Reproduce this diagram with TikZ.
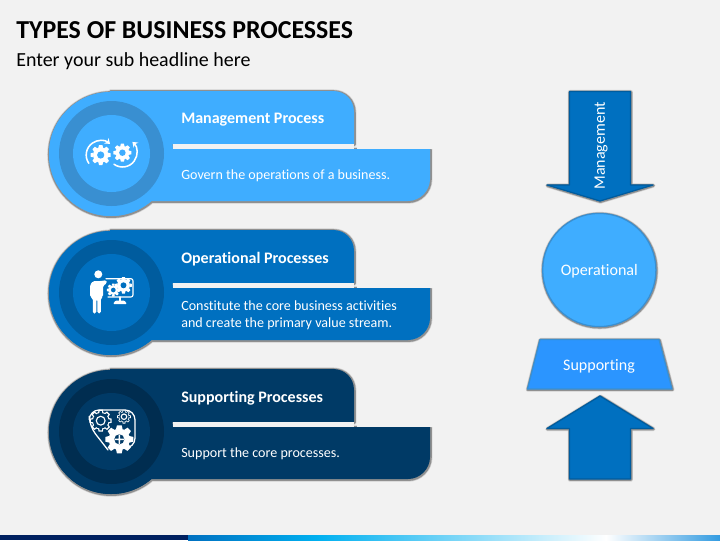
\documentclass[tikz,border=0pt]{standalone}
\usepackage{fontspec}
\setmainfont[Ligatures=NoCommon]{Carlito}
\usepackage{xcolor}
\usetikzlibrary{arrows.meta}
\definecolor{MyPage}{HTML}{F2F2F2}
\definecolor{MyLight}{HTML}{3FADFF}
\definecolor{MyLightRing}{HTML}{398FD1}
\definecolor{MyMid}{HTML}{0070C0}
\definecolor{MyMidRing}{HTML}{005C9E}
\definecolor{MyDark}{HTML}{003A66}
\definecolor{MyDarkRing}{HTML}{002D50}
\definecolor{MyTrap}{HTML}{2B95FF}
\definecolor{MyNavy}{HTML}{002060}
\definecolor{MySky}{HTML}{00B0F0}
\definecolor{MyEnd}{HTML}{329BE1}
\tikzset{
  x=0.025cm, y=-0.025cm,
  MyShade/.style={
    preaction={draw=black, opacity=.14, line width=3pt, line join=round, transform canvas={shift={(.25pt,-.4pt)}}},
    preaction={draw=black, opacity=.3, line width=2pt, line join=round, transform canvas={shift={(.25pt,-.4pt)}}},
  },
  MyHead/.style={anchor=west, inner sep=0pt, text=white, font=\fontsize{11.4}{14}\selectfont\bfseries},
  MyBody/.style={anchor=west, inner sep=0pt, text=white, align=left, font=\fontsize{10}{12}\selectfont},
  MyLabel/.style={inner sep=0pt, text=white, font=\fontsize{11.4}{13}\selectfont},
  MyArrow/.style={fill=MyMid, draw=MyMidRing, line width=.9pt, line join=round, MyShade},
  MyIcon/.style={draw=white, line width=1.1pt, line cap=round},
  MyTip/.style={-{Stealth[length=3.5pt,width=5pt]}},
}
% card outline with its rings, y is the offset of the card
\newcommand{\MyCard}[4]{
  \begin{scope}[shift={(0,#1)}]
    \fill[#2, MyShade] (111,154) circle[radius=62]
      (110,91) -- (333,91) .. controls (345,91) and (354,100) .. (354,112) -- (354,144) -- (110,144) -- cycle
      (110,149) -- (430,149) -- (430,179) .. controls (430,191) and (420,201) .. (408,201) -- (110,201) -- cycle;
    \fill[MyPage] (173,144) rectangle (354,149);
    \fill[MyPage] (357,145) rectangle (434,149);
    \fill[#2] (111,154) circle[radius=62];
    \fill[#3] (111.5,153.5) circle[radius=52.5];
    \fill[#4] (111.5,153.5) circle[radius=38.5];
  \end{scope}
}
% solid gear: x, y, radius, hole colour
\newcommand{\MyGear}[4]{
  \foreach \a in {0,45,...,315}
    \fill[white, shift={(#1,#2)}, scale=#3, rotate=\a] (-.24,-.7) -- (-.17,-1) -- (.17,-1) -- (.24,-.7) -- cycle;
  \fill[white] (#1,#2) circle[radius=#3*.76];
  \fill[#4] (#1,#2) circle[radius=#3*.36];
}
% outline gear: x, y, radius, inner colour
\newcommand{\MyGearLine}[4]{
  \foreach \a in {0,45,...,315}
    \fill[white, shift={(#1,#2)}, scale=#3, rotate=\a] (-.26,-.7) -- (-.2,-1.05) -- (.2,-1.05) -- (.26,-.7) -- cycle;
  \fill[white] (#1,#2) circle[radius=#3*.84];
  \foreach \a in {0,45,...,315}
    \fill[#4, shift={(#1,#2)}, scale=#3, rotate=\a] (-.14,-.7) -- (-.1,-.92) -- (.1,-.92) -- (.14,-.7) -- cycle;
  \fill[#4] (#1,#2) circle[radius=#3*.74];
  \draw[white, line width=.8pt] (#1,#2) circle[radius=#3*.42];
}
\begin{document}
\begin{tikzpicture}
\useasboundingbox (0,0) rectangle (720,540);
\fill[MyPage] (0,0) rectangle (720,540);

\node[anchor=west, inner sep=0pt, font=\fontsize{18.4}{20}\selectfont\bfseries] (Title) at (16,30) {TYPES OF BUSINESS PROCESSES};
\node[anchor=west, inner sep=0pt, font=\fontsize{14.2}{16}\selectfont] (SubTitle) at (16,61.5) {Enter your sub headline here};

\MyCard{0}{MyLight}{MyLightRing}{MyLight}
\MyCard{139}{MyMid}{MyMidRing}{MyMid}
\MyCard{278}{MyDark}{MyDarkRing}{MyDark}

\node[MyHead] (MgmtHead) at (181,120) {Management Process};
\node[MyBody] (MgmtBody) at (181,176) {Govern the operations of a business.};
\node[MyHead] (OperHead) at (181,259) {Operational Processes};
\node[MyBody] (OperBody) at (181,315) {Constitute the core business activities\\and create the primary value stream.};
\node[MyHead] (SuppHead) at (181,398) {Supporting Processes};
\node[MyBody] (SuppBody) at (181,454) {Support the core processes.};

% gears with turning arrows
\MyGear{100.7}{155}{10}{MyLight}
\MyGear{122.4}{152.7}{9}{MyLight}
\draw[MyIcon, MyTip] (100.7,155) ++(145:14.5) arc[start angle=145, end angle=310, radius=14.5];
\draw[MyIcon, MyTip] (122.5,152.5) ++(126:14.5) arc[start angle=126, end angle=-47, radius=14.5];

% person at a screen
\fill[white] (98.3,274.3) circle[radius=4];
\fill[white, rounded corners=1.2pt] (92.8,313.5) -- (92.8,298) -- (90,297) -- (90,285) -- (93,281) -- (102,281) -- (106.5,280) -- (107,283.5) -- (103,285.5) -- (103,297) -- (100.8,298) -- (100.8,313.5) -- (97.4,313.5) -- (97.4,299) -- (96.4,299) -- (96.4,313.5) -- cycle;
\draw[MyIcon, line width=.8pt, rounded corners=1.5pt] (106,278.7) -- (133,278.7) -- (133,297) -- (108,297);
\draw[MyIcon, line width=1pt] (120,297) -- (120,301);
\fill[white, rounded corners=.8pt] (113,304) -- (115.5,300.5) -- (124.5,300.5) -- (127,304) -- cycle;
\MyGear{113.3}{290}{6.5}{MyMid}
\MyGear{123.5}{285.3}{8.3}{MyMid}

% belt with three gears
\draw[MyIcon, line width=.9pt, rounded corners=7pt] (108,450) -- (89.3,426) -- (89.3,410) -- (135,410) -- (135,448) -- (120,448);
\MyGearLine{100.7}{420.7}{10.5}{MyDark}
\MyGearLine{124}{416.7}{6.5}{MyDark}
\MyGear{119.3}{439.3}{14}{MyDark}
\fill[white] (118.6,434.5) rectangle (120,444) (114.5,438.6) rectangle (124,440);

% right column
\draw[MyArrow] (569.5,91.5) -- (630.5,91.5) -- (630.5,185) -- (653,185) -- (600,201) -- (547,185) -- (569.5,185) -- cycle;
\node[MyLabel, rotate=90] (ArrowMgmt) at (601,146) {Management};
\node[circle, minimum size=2.83cm, fill=MyLight, draw=MyLightRing, line width=.9pt, MyShade, MyLabel] (CircleOper) at (599.3,270) {};
\node[MyLabel] (TextOper) at (599.3,271) {Operational};
\draw[fill=MyTrap, draw=MyLightRing, line width=.9pt, line join=round, MyShade] (540,339.5) -- (659,339.5) -- (672,389) -- (527.5,389) -- cycle;
\node[MyLabel] (TrapSupp) at (599,366) {Supporting};
\draw[MyArrow] (600,396) -- (653,428.5) -- (630.5,428.5) -- (630.5,479) -- (569.5,479) -- (569.5,428.5) -- (547,428.5) -- cycle;

% footer bar
\fill[MyNavy] (0,535) rectangle (188,540);
\shade[left color=MyMid, right color=MySky] (188,535) rectangle (317.5,540);
\shade[left color=MySky, right color=white] (317,535) rectangle (606.5,540);
\shade[left color=white, right color=MyEnd] (606,535) rectangle (720,540);
\end{tikzpicture}
\end{document}
